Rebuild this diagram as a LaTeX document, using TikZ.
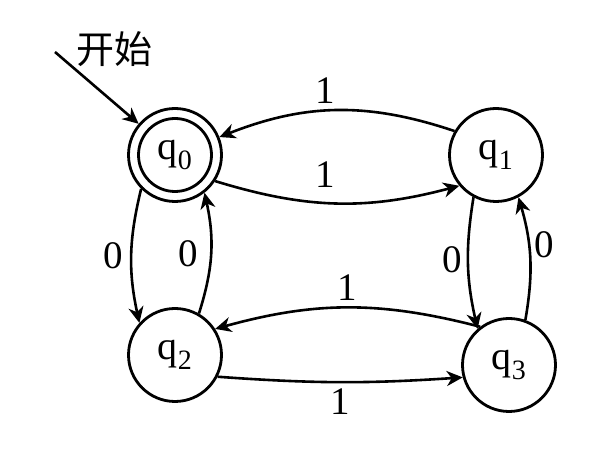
\documentclass[tikz,border=0pt]{standalone}
\usepackage{fontspec}
\setmainfont{Liberation Serif}
\newfontfamily\cjk{Noto Sans CJK SC}
\usetikzlibrary{%
  arrows.meta,% Pfeilspitzen
  positioning,%
}
\tikzset{
  zustand/.style={circle,draw,line width=2.8pt,minimum size=93pt,inner sep=0pt,
    font=\fontsize{40}{44}\selectfont},
  kante/.style={line width=2.6pt,-{Stealth[length=16pt,width=15pt,inset=5pt]}},
  marke/.style={inner sep=0pt,font=\fontsize{39}{44}\selectfont},
}
\begin{document}
\begin{tikzpicture}[x=1pt,y=1pt]
    \useasboundingbox (0,0) rectangle (608,449);
    % Zustaende
    \node[zustand] (q0) at (175,294) {q\textsubscript{0}};
    \draw[line width=2.8pt] (q0.center) circle (36.5pt);
    \node[zustand] (q1) at (496,294) {q\textsubscript{1}};
    \node[zustand] (q2) at (175,94) {q\textsubscript{2}};
    \node[zustand] (q3) at (509,84) {q\textsubscript{3}};
    % Start
    \node[font=\cjk\fontsize{38}{42}\selectfont] (start) at (114,400) {开始};
    \coordinate (anfang) at (55,397);
    \draw[kante] (anfang) -- (q0);
    % Uebergaenge
    \draw[kante] (q0.-33) to[bend right=16] node[marke,pos=0.45,above=14pt] {1} (q1.-140);
    \draw[kante] (q1.150) to[bend right=20] node[marke,pos=0.55,above=6pt] {1} (q0.22);
    \draw[kante] (q0.225) to[bend right=13] node[marke,left=7pt] {0} (q2.138);
    \draw[kante] (q2.60) to[bend right=15] node[marke,left=12pt] {0} (q0.-52);
    \draw[kante] (q1.-118) to[bend right=11] node[marke,pos=0.47,left=5pt] {0} (q3.131);
    \draw[kante] (q3.70) to[bend right=13] node[marke,pos=0.62,right=4pt] {0} (q1.-62);
    \draw[kante] (q3.127) to[bend right=15] node[marke,above=6pt] {1} (q2.33);
    \draw[kante] (q2.-27) to[bend right=4] node[marke,below=5pt] {1} (q3.195);
\end{tikzpicture}
\end{document}
